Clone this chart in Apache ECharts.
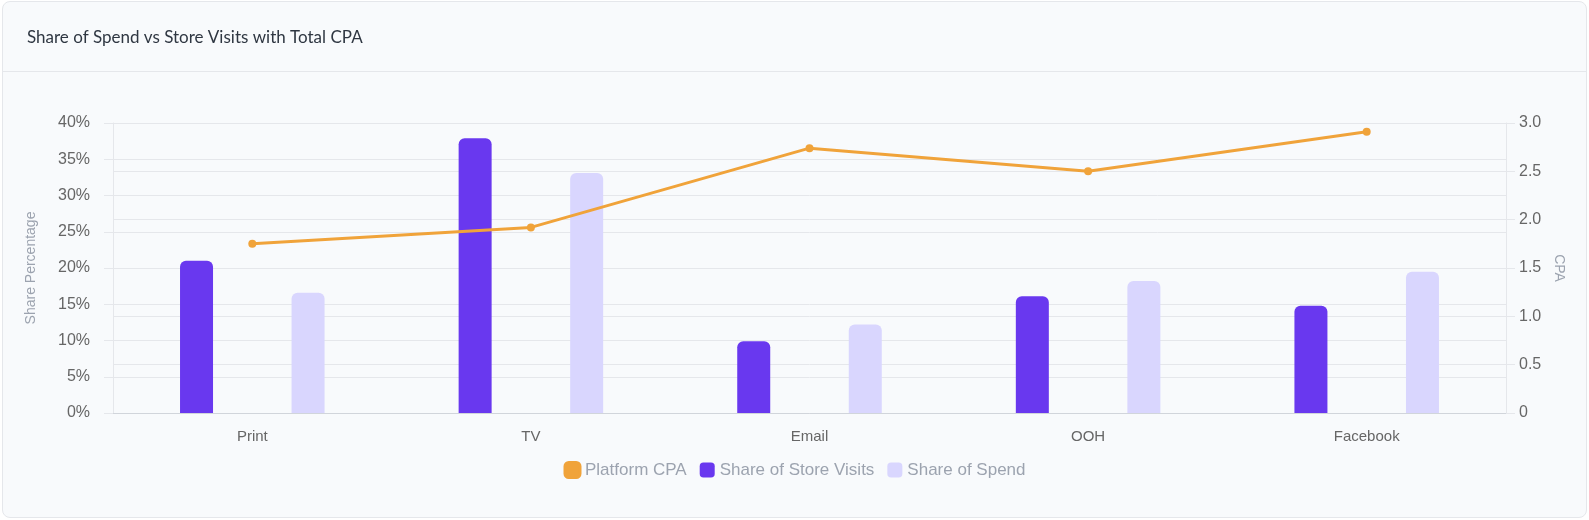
<!DOCTYPE html>
<html>
<head>
<meta charset="utf-8">
<script src="https://cdn.jsdelivr.net/npm/echarts@6/dist/echarts.min.js"></script>
<style>
	html, body { margin: 0; padding: 0; background: #ffffff; }
	.card {
		position: absolute; left: 2px; top: 1px; width: 1583px; height: 515px;
		background: #f8fafc; border: 1px solid #e5e7eb; border-radius: 8px;
	}
	.card .head { position: absolute; left: 0; right: 0; top: 0; height: 69px; border-bottom: 1px solid #e5e7eb; }
	#chart { position: absolute; left: 0; top: 0; width: 1589px; height: 520px; }
</style>
</head>
<body>
<div class="card"><div class="head"></div></div>
<div id="chart"></div>
<script>
var categories = ['Print', 'TV', 'Email', 'OOH', 'Facebook'];
var storeVisits = [21.0, 37.9, 9.9, 16.1, 14.8];
var spendShare = [16.6, 33.1, 12.2, 18.2, 19.5];
var platformCpa = [1.75, 1.92, 2.74, 2.5, 2.91];

var chart = echarts.init(document.getElementById('chart'));

var gridColor = '#e5e7eb';
var labelFont = 'Liberation Sans';

var option = {
	backgroundColor: 'transparent',
	title: {
		text: 'Share of Spend vs Store Visits with Total CPA',
		left: 22,
		top: 24,
		textStyle: {
			color: '#2f3742',
			fontFamily: 'Lato',
			fontSize: 17,
			fontWeight: 'normal'
		}
	},
	legend: {
		left: 'center',
		top: 456,
		icon: 'roundRect',
		itemWidth: 15,
		itemHeight: 15,
		itemGap: 13,
		textStyle: {
			color: '#9ca3af',
			fontFamily: labelFont,
			fontSize: 17
		},
		data: [{
			name: 'Platform CPA',
			itemStyle: { color: '#f0a33a', borderColor: '#f0a33a', borderWidth: 3 }
		}, 'Share of Store Visits', 'Share of Spend']
	},
	grid: {
		left: 113,
		right: 83,
		top: 123,
		height: 290
	},
	xAxis: {
		type: 'category',
		data: categories,
		axisLine: { lineStyle: { color: '#d1d5db' } },
		axisTick: { show: false },
		axisLabel: {
			color: '#666666',
			fontFamily: labelFont,
			fontSize: 15,
			margin: 16
		}
	},
	yAxis: [{
		type: 'value',
		min: 0,
		max: 40,
		interval: 5,
		name: 'Share Percentage',
		nameLocation: 'middle',
		nameRotate: 90,
		nameGap: 75,
		nameTextStyle: { color: '#9ca3af', fontFamily: labelFont, fontSize: 14 },
		axisLine: { show: true, lineStyle: { color: gridColor } },
		axisTick: { show: true, length: 9, lineStyle: { color: gridColor } },
		splitLine: { lineStyle: { color: gridColor } },
		axisLabel: {
			formatter: '{value}%',
			color: '#666666',
			fontFamily: labelFont,
			fontSize: 16,
			margin: 23
		}
	}, {
		type: 'value',
		min: 0,
		max: 3,
		interval: 0.5,
		name: 'CPA',
		nameLocation: 'middle',
		nameRotate: -90,
		nameGap: 46,
		nameTextStyle: { color: '#9ca3af', fontFamily: labelFont, fontSize: 14 },
		axisLine: { show: true, lineStyle: { color: gridColor } },
		axisTick: { show: true, length: 9, lineStyle: { color: gridColor } },
		splitLine: { lineStyle: { color: gridColor } },
		axisLabel: {
			formatter: function (v) { return v === 0 ? '0' : v.toFixed(1); },
			color: '#666666',
			fontFamily: labelFont,
			fontSize: 16,
			margin: 13
		}
	}],
	series: [{
		name: 'Platform CPA',
		type: 'line',
		yAxisIndex: 1,
		data: platformCpa,
		z: 5,
		symbol: 'circle',
		symbolSize: 8,
		color: '#f0a33a',
		lineStyle: { width: 3, color: '#f0a33a' }
	}, {
		name: 'Share of Store Visits',
		type: 'bar',
		data: storeVisits,
		barWidth: 33,
		barGap: '238%',
		color: '#6938ef',
		itemStyle: { borderRadius: [6, 6, 0, 0] }
	}, {
		name: 'Share of Spend',
		type: 'bar',
		data: spendShare,
		barWidth: 33,
		barGap: '238%',
		color: '#d9d6fe',
		itemStyle: { borderRadius: [6, 6, 0, 0] }
	}]
};
chart.setOption(option);

window.addEventListener('resize', function () {
	chart.resize();
});
</script>
</body>
</html>
